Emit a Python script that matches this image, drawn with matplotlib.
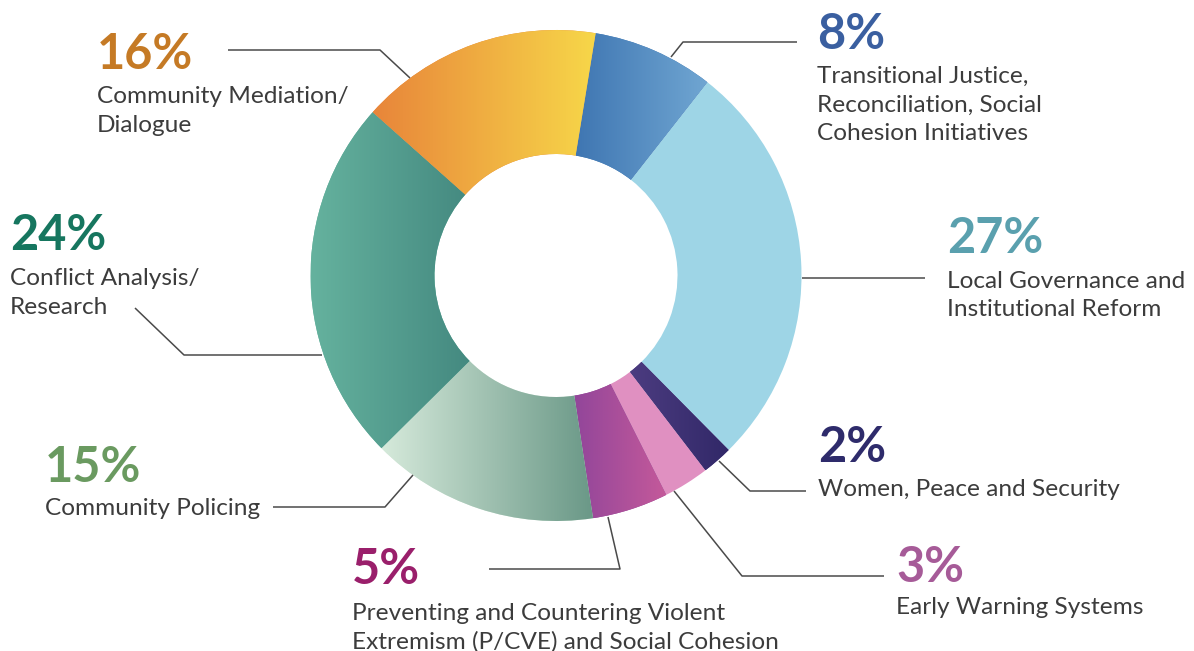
import matplotlib
matplotlib.use("Agg")
import matplotlib.pyplot as plt
import numpy as np
from matplotlib.colors import LinearSegmentedColormap

# slices, clockwise from just right of 12 o'clock
values = [8, 27, 2, 3, 5, 15, 24, 16]
pct_labels = ["8%", "27%", "2%", "3%", "5%", "15%", "24%", "16%"]
names = [
    ["Transitional Justice,", "Reconciliation, Social", "Cohesion Initiatives"],
    ["Local Governance and", "Institutional Reform"],
    ["Women, Peace and Security"],
    ["Early Warning Systems"],
    ["Preventing and Countering Violent", "Extremism (P/CVE) and Social Cohesion"],
    ["Community Policing"],
    ["Conflict Analysis/", "Research"],
    ["Community Mediation/", "Dialogue"],
]

# (left colour, right colour) of each wedge's horizontal gradient
fills = [
    ("#3f76b2", "#70a6d2"),
    ("#9ed5e6", "#9ed5e6"),
    ("#4c3c80", "#312868"),
    ("#e090c1", "#e090c1"),
    ("#92469a", "#c4599a"),
    ("#d6eadb", "#6a9887"),
    ("#65b29e", "#448980"),
    ("#e8853a", "#f7d749"),
]
pct_colors = ["#3a5fa0", "#5aa0ae", "#2e2b6b", "#a65b98",
              "#9a1f6b", "#6a9a60", "#16765f", "#c57a25"]

W, H = 1194, 651
# text anchors in pixel coords (x, baseline of the big number, first label baseline)
text_pos = [
    (817, 49, 83),
    (947, 253, 288),
    (818, 462, 496),
    (896, 582, 614),
    (352, 584, 620),
    (45, 482, 515),
    (10, 250, 285),
    (97, 69, 103),
]
leaders = [
    [(797, 42), (683, 42), (671, 57)],
    [(925, 278), (802, 278)],
    [(806, 491), (750, 491), (719, 461)],
    [(884, 576), (742, 576), (674, 491)],
    [(489, 569), (620, 569), (608, 517)],
    [(273, 507), (385, 507), (413, 475)],
    [(135, 308), (184, 355), (322, 355)],
    [(228, 50), (380, 50), (410, 78)],
]

fig = plt.figure(figsize=(W / 100, H / 100), dpi=100)
ax = fig.add_axes([0, 0, 1, 1])

R = 245.5
wedges, _ = ax.pie(values, radius=R, center=(556, H - 275.5), startangle=80.7,
                   counterclock=False, frame=True,
                   wedgeprops=dict(width=124, linewidth=0))

for w, (c0, c1) in zip(wedges, fills):
    w.set_facecolor(c0)
    if c0 == c1:
        continue
    ext = w.get_path().get_extents()
    cmap = LinearSegmentedColormap.from_list("g", [c0, c1])
    grad = np.linspace(0, 1, 256).reshape(1, -1)
    im = ax.imshow(grad, cmap=cmap, extent=(ext.x0, ext.x1, ext.y0, ext.y1),
                   aspect="auto", origin="lower", interpolation="bilinear",
                   zorder=w.get_zorder() + 0.1)
    im.set_clip_path(w)

for pts in leaders:
    xs = [p[0] for p in pts]
    ys = [H - p[1] for p in pts]
    ax.plot(xs, ys, color="#4a4a4a", lw=1.1, solid_capstyle="butt", zorder=5)

for pct, col, lines, (x, yb, yl) in zip(pct_labels, pct_colors, names, text_pos):
    ax.text(x, H - yb, pct, color=col, fontsize=35, fontweight="bold",
            family="Lato", ha="left", va="baseline")
    for i, line in enumerate(lines):
        ax.text(x, H - (yl + 28.5 * i), line, color="#3c3c3c", fontsize=17.6,
                family="Lato", ha="left", va="baseline")

ax.set_xlim(0, W)
ax.set_ylim(0, H)
ax.set_aspect("equal")
ax.axis("off")

fig.savefig("out.png", dpi=100, facecolor="white")
